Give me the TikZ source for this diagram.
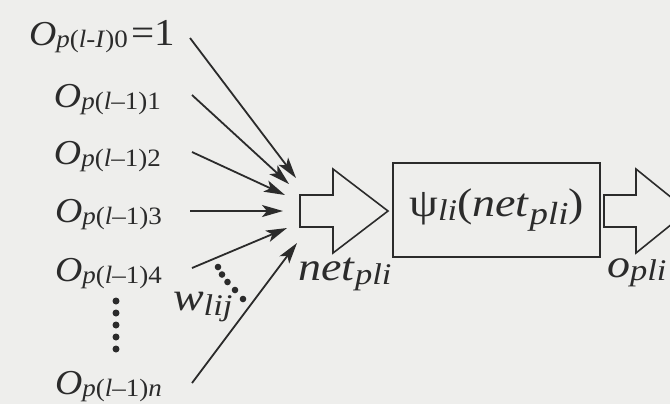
\documentclass[tikz,border=0pt]{standalone}
\usepackage{fontspec}
\setmainfont{Liberation Serif}
\usetikzlibrary{arrows.meta}
\definecolor{bg}{HTML}{EEEEEC}
\definecolor{ink}{HTML}{2B2B2B}
% subscript: size, lowering, text
\newcommand\Sb[3]{\raisebox{-#2}{\fontsize{#1}{#1}\selectfont #3}}
\newcommand\Ob[1]{{\fontsize{17.5}{18}\selectfont\itshape O}\Sb{12.5}{1pt}{#1}}
\newcommand\Mi{\fontsize{20}{21}\selectfont}
\newcommand\Wd[1]{\scalebox{1.15}[1]{#1}}
\newcommand\Wl[1]{\scalebox{1.08}[1]{#1}}
\begin{document}
\begin{tikzpicture}[x=0.5pt,y=-0.5pt,
  lbl/.style={inner sep=0pt, outer sep=0pt, anchor=base west, text=ink},
  inarrow/.style={draw=ink, line width=0.9pt, -{Stealth[length=10.5pt,width=6pt,inset=2.5pt]}},
  hollow/.style={draw=ink, line width=0.8pt, line join=miter, fill=bg},
  fbox/.style={draw=ink, line width=1pt, fill=bg, inner sep=0pt, text=ink},
  dot/.style={fill=ink, draw=none}]
\fill[bg] (0,0) rectangle (670,404);
\useasboundingbox (0,0) rectangle (670,404);
\clip (0,0) rectangle (670,404);

% input labels
\node[lbl] (o0) at (29,45) {\Wl{\Ob{\textit{p}(\textit{l}-\textit{I})0}\,{\fontsize{19}{19}\selectfont =1}}};
\node[lbl] (o1) at (54,107) {\Wl{\Ob{\textit{p}(\textit{l}–1)1}}};
\node[lbl] (o2) at (54,164) {\Wl{\Ob{\textit{p}(\textit{l}–1)2}}};
\node[lbl] (o3) at (55,222) {\Wl{\Ob{\textit{p}(\textit{l}–1)3}}};
\node[lbl] (o4) at (55,281) {\Wl{\Ob{\textit{p}(\textit{l}–1)4}}};
\node[lbl] (on) at (55,394) {\Wl{\Ob{\textit{p}(\textit{l}–1)\textit{n}}}};

% vertical ellipsis
\foreach \y in {301,313,325,337,349} \fill[dot] (116,\y) circle[radius=3.5];

% arrow end points
\coordinate (s0) at (190,38);  \coordinate (t0) at (296,178);
\coordinate (s1) at (192,95);  \coordinate (t1) at (289,184);
\coordinate (s2) at (192,152); \coordinate (t2) at (285,195);
\coordinate (s3) at (190,211); \coordinate (t3) at (283,211);
\coordinate (s4) at (192,268); \coordinate (t4) at (287,228);
\coordinate (sn) at (192,383); \coordinate (tn) at (297,243);
\foreach \i in {0,1,2,3,4,n} \draw[inarrow] (s\i) -- (t\i);

% weight marker
\foreach \p in {(218,267),(222,274.5),(227.5,282),(235,290),(243,299)} \fill[dot] \p circle[radius=3.3];
\node[lbl] (w) at (173,310) {\Wd{\Mi\textit{w}\Sb{15}{2.5pt}{\textit{lij}}}};

% hollow arrow into box
\draw[hollow] (300,195) -- (333,195) -- (333,169) -- (388,211) -- (333,253) -- (333,227) -- (300,227) -- cycle;
\node[lbl] (net) at (298,280) {\Wd{\Mi\textit{net}\Sb{15}{2pt}{\textit{pli}}}};

% activation box
\node[fbox, minimum width=103.5pt, minimum height=47pt] (psi) at (496.5,210)
  {\Wd{\Mi ψ\Sb{15}{2pt}{\textit{li}}(\textit{net}\Sb{16}{4pt}{\textit{pli}})}};

% hollow output arrow
\draw[hollow] (604,195) -- (636,195) -- (636,169) -- (688,211) -- (636,253) -- (636,227) -- (604,227) -- cycle;
\node[lbl] (out) at (607,277) {\Wd{\Mi\textit{o}\Sb{15}{1.5pt}{\textit{pli}}}};
\end{tikzpicture}
\end{document}
